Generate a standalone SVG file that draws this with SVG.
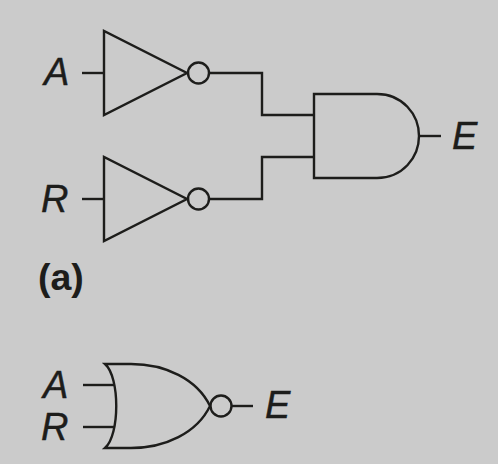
<svg xmlns="http://www.w3.org/2000/svg" width="498" height="464" viewBox="0 0 498 464">
<style>
.g{fill:none;stroke:#1d1d1b;stroke-width:2.4;stroke-linejoin:miter}
.t{font-family:"Liberation Sans",Arial,sans-serif;font-size:38px;font-style:italic;fill:#1d1d1b;stroke:#1d1d1b;stroke-width:.4}
.b{font-family:"Liberation Sans",Arial,sans-serif;font-size:37.500px;font-weight:bold;fill:#1d1d1b}
</style>
<rect width="498" height="464" fill="#cbcbcb"/>
<g id="connectors" class="g">
<path d="M82 73H104"/>
<path d="M82 199H104"/>
<path d="M210 73H262V115H314"/>
<path d="M210 199H262V157H314"/>
<path d="M419 136H441"/>
<path d="M83 385H114"/>
<path d="M83 427H114"/>
<path d="M232 406H253"/>
</g>
<g id="inv-a"><path class="g" d="M104 31V115L187 73Z"/><circle class="g" cx="198.500" cy="73" r="10.500"/></g>
<g id="inv-r"><path class="g" d="M104 157V241L187 199Z"/><circle class="g" cx="198.500" cy="199" r="10.500"/></g>
<g id="and"><path class="g" d="M377 94H314V178H377C402 178 419 158 419 136C419 114 402 94 377 94Z"/></g>
<g id="nor"><path class="g" d="M105 364H131C165 364 197 379 210 406C197 433 165 448 131 448H105C120 435 120 377 105 364Z"/><circle class="g" cx="221" cy="406" r="10.500"/></g>
<g id="labels">
<text class="t" x="44" y="85">A</text>
<text class="t" x="41" y="212">R</text>
<text class="t" x="452" y="149">E</text>
<text class="b" x="38" y="290">(a)</text>
<text class="t" x="43" y="398">A</text>
<text class="t" x="41" y="440">R</text>
<text class="t" x="265" y="418">E</text>
</g>
</svg>
